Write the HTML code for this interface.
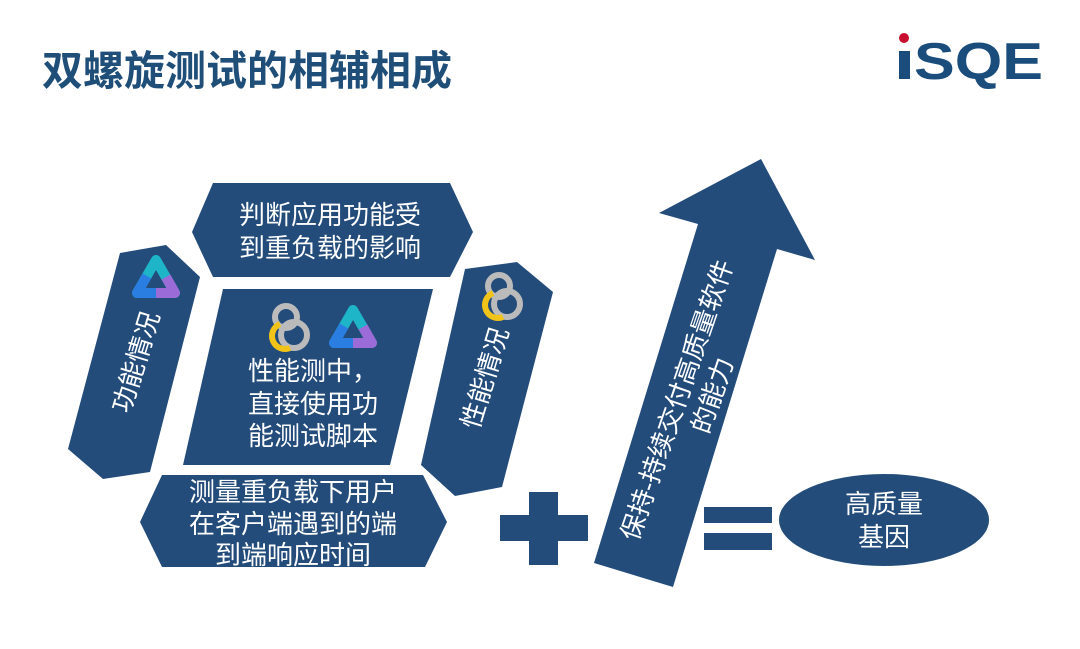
<!DOCTYPE html>
<html><head><meta charset="utf-8"><style>
body{margin:0;width:1080px;height:649px;background:#fff;overflow:hidden;font-family:"Liberation Sans","Noto Sans CJK SC",sans-serif;}
</style></head><body>
<svg width="1080" height="649" xmlns="http://www.w3.org/2000/svg" style="position:absolute;left:0;top:0">
<text x="42" y="85" font-size="41" font-weight="bold" fill="#1f4e79" font-family="Liberation Sans,Noto Sans CJK SC,sans-serif">双螺旋测试的相辅相成</text>
<g font-family="Liberation Sans,sans-serif" font-weight="bold" fill="#1b4d7c">
<rect x="899" y="51" width="11" height="28"/>
<circle cx="904" cy="38" r="5" fill="#c8102e"/>
<text x="914" y="79" font-size="52" textLength="129" lengthAdjust="spacingAndGlyphs">SQE</text>
</g>
<g fill="#234c7b">
<polygon points="213,183 450,183 473,232 450,277 213,277 192,232"/>
<polygon points="120,253 166,245 200,277 150,472 103,479 68,449"/>
<polygon points="223,289 433,289 390,465 183,465"/>
<polygon points="465,269 517,262 553,292 502,487 455,496 421,465"/>
<polygon points="162,475 423,475 447,522 425,567 162,567 140,522"/>
<rect x="529" y="492" width="29" height="73"/>
<rect x="500" y="515" width="88" height="26"/>
<polygon points="761,159 815,260 777,249 673,587 594,563 698,224 659,213"/>
<rect x="704" y="507" width="68" height="16"/>
<rect x="704" y="533" width="68" height="17"/>
<ellipse cx="884" cy="520" rx="105" ry="46"/>
</g>
<g fill="#fff" font-size="26" font-family="Liberation Sans,Noto Sans CJK SC,sans-serif">
<text x="330" y="224" text-anchor="middle">判断应用功能受</text>
<text x="330" y="257" text-anchor="middle">到重负载的影响</text>
<text x="248" y="380">性能测中，</text>
<text x="248" y="413">直接使用功</text>
<text x="248" y="445">能测试脚本</text>
<text x="293" y="501" text-anchor="middle">测量重负载下用户</text>
<text x="293" y="533" text-anchor="middle">在客户端遇到的端</text>
<text x="293" y="564" text-anchor="middle">到端响应时间</text>
<text x="884" y="513" text-anchor="middle">高质量</text>
<text x="884" y="546" text-anchor="middle">基因</text>
<text transform="translate(136,362) rotate(-73)" text-anchor="middle" y="9">功能情况</text>
<text transform="translate(485,378) rotate(-73)" text-anchor="middle" y="9">性能情况</text>
<g transform="translate(677,400) rotate(-71)">
<text text-anchor="middle" y="9">保持-持续交付高质量软件</text>
<text text-anchor="middle" x="16" y="41">的能力</text>
</g>
</g>
<defs>
<g id="tri"><path d="M0,-20 L-19,13 L19,13 Z" fill="none" stroke="#1fb5c9" stroke-width="10" stroke-linejoin="round"/>
<path d="M-9,-4 L-19,13 L0,13" fill="none" stroke="#2a7de1" stroke-width="10" stroke-linejoin="round"/>
<path d="M0,13 L19,13 L10,-3" fill="none" stroke="#9b6bd8" stroke-width="10" stroke-linejoin="round"/></g>
<g id="knot"><circle cx="2" cy="-10" r="11" fill="none" stroke="#bbb" stroke-width="6"/>
<circle cx="10" cy="8" r="13" fill="none" stroke="#bbb" stroke-width="6"/>
<path d="M-4,-3 A13,13 0 1 0 6,21" fill="none" stroke="#f2c318" stroke-width="6"/></g>
</defs>
<use href="#tri" x="156" y="280"/>
<use href="#tri" x="353" y="330"/>
<use href="#knot" x="284" y="327"/>
<use href="#knot" x="497" y="296"/>
</svg>
</body></html>
